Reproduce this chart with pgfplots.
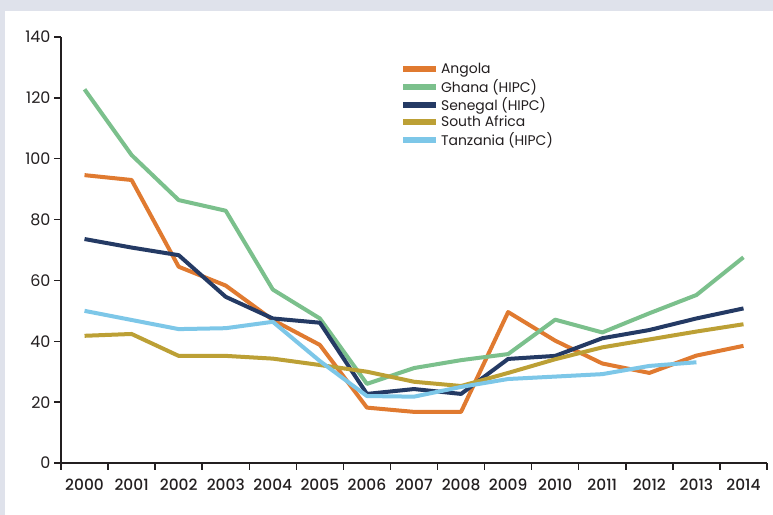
\documentclass[border=0pt]{standalone}
\usepackage{pgfplots}
\pgfplotsset{compat=1.18}
\usepackage{fontspec}
\setmainfont{Poppins}
\IfFontExistsTF{Poppins Medium}{\newfontfamily\pmed{Poppins Medium}}{\newcommand\pmed{}}
\definecolor{cAng}{HTML}{E07A30}
\definecolor{cGha}{HTML}{7BC08C}
\definecolor{cSen}{HTML}{243A64}
\definecolor{cSA}{HTML}{BCA035}
\definecolor{cTan}{HTML}{7DC7E8}
\definecolor{cAx}{HTML}{231F20}
\definecolor{cBg}{HTML}{DFE2EB}
\begin{document}
\begin{tikzpicture}[x=1bp,y=1bp]
\useasboundingbox (0,0) rectangle (773,515);
\fill[cBg] (0,0) rectangle (773,515);
\fill[white] (5,0) rectangle (773,504);
\begin{axis}[
  at={(61bp,52bp)}, anchor=south west,
  scale only axis, width=706bp, height=426bp,
  xmin=-0.5, xmax=14.5, ymin=0, ymax=140,
  axis x line=bottom, axis y line=left,
  axis line style={-, line width=2.5bp, cAx},
  xtick={-0.5,0.5,1.5,2.5,3.5,4.5,5.5,6.5,7.5,8.5,9.5,10.5,11.5,12.5,13.5,14.5},
  x tick label as interval,
  xticklabels={2000,2001,2002,2003,2004,2005,2006,2007,2008,2009,2010,2011,2012,2013,2014},
  ytick={0,20,...,140},
  tick align=outside, major tick length=7bp,
  tick style={line width=1.5bp, cAx},
  xticklabel style={font=\pmed\fontsize{15.5}{15.5}\selectfont, text=cAx, yshift=-5bp},
  yticklabel style={font=\fontsize{16}{16}\selectfont, text=cAx},
  /pgf/number format/assume math mode=true,
  clip=false,
  legend style={at={(axis cs:6.7,132)}, anchor=north west, draw=none, fill=none,
    font=\fontsize{14}{14}\selectfont, text=cAx, row sep=0pt, inner sep=0pt},
  legend cell align=left,
  legend image code/.code={\draw[line width=6bp] (0bp,0bp) -- (33bp,0bp);},
  every axis plot/.append style={line width=4bp, line join=round},
]
\addplot[cAng] coordinates {(0,94.6)(1,93.0)(2,64.5)(3,58.3)(4,47)(5,38.8)(6,18.2)(7,16.8)(8,16.8)(9,49.6)(10,40.2)(11,32.7)(12,29.6)(13,35.3)(14,38.5)};
\addlegendentry{Angola}
\addplot[cGha] coordinates {(0,122.8)(1,101.2)(2,86.4)(3,82.9)(4,57)(5,47.5)(6,26)(7,31.2)(8,33.8)(9,35.8)(10,47.1)(11,42.9)(12,49.2)(13,55.2)(14,67.6)};
\addlegendentry{Ghana (HIPC)}
\addplot[cSen] coordinates {(0,73.6)(1,70.8)(2,68.3)(3,54.6)(4,47.5)(5,46.1)(6,22.7)(7,24.3)(8,22.7)(9,34.2)(10,35.2)(11,41)(12,43.7)(13,47.5)(14,50.8)};
\addlegendentry{Senegal (HIPC)}
\addplot[cSA] coordinates {(0,41.8)(1,42.4)(2,35.2)(3,35.2)(4,34.3)(5,32.2)(6,30)(7,26.7)(8,25.3)(9,29.6)(10,34.1)(11,38)(12,40.6)(13,43.2)(14,45.6)};
\addlegendentry{South Africa}
\addplot[cTan] coordinates {(0,50)(1,47)(2,44)(3,44.3)(4,46.4)(5,33.5)(6,22)(7,21.8)(8,25)(9,27.6)(10,28.4)(11,29.2)(12,31.9)(13,33.1)};
\addlegendentry{Tanzania (HIPC)}
\end{axis}
\end{tikzpicture}
\end{document}
